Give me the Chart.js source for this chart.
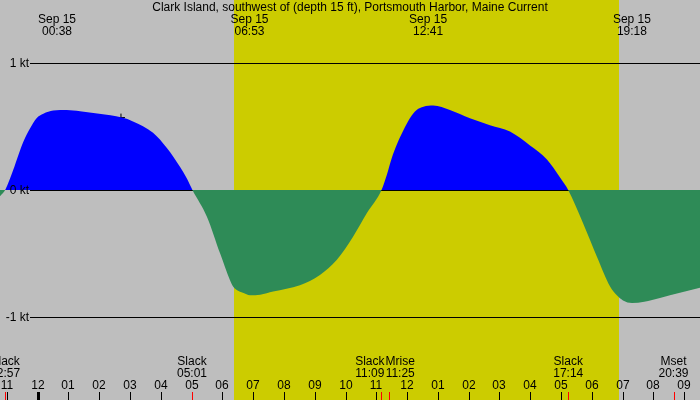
<!DOCTYPE html>
<html>
<head>
<meta charset="utf-8">
<script src="https://cdn.jsdelivr.net/npm/chart.js@4/dist/chart.umd.min.js"></script>
<style>
  body { margin: 0; background: #bebebe; }
  canvas { display: block; }
</style>
</head>
<body>
<canvas id="tideChart" width="700" height="400"></canvas>
<script>
// hours from midnight Sep 15 (negative = Sep 14)
const hours = [-1.22, -1.05, -0.79, -0.62, -0.46, -0.24, -0.03, 0.19, 0.51, 0.95, 1.38, 2.0, 2.74, 3.1, 3.75, 4.2, 4.63, 4.85, 5.03,
    5.5, 5.93, 6.25, 6.35, 6.48, 6.67, 6.9, 7.23, 7.65, 8.52, 9.17, 9.72, 10.24, 10.7, 11.17,
    11.34, 11.5, 11.66, 11.88, 12.09, 12.31, 12.53, 12.85, 13.39, 14.04, 14.69, 15.34, 15.99, 16.54, 16.96, 17.23,
    17.71, 18.17, 18.59, 18.81, 19.01, 19.3, 19.7, 20.21, 20.86, 21.51];
const knots = [-0.05, 0, 0.157, 0.276, 0.38, 0.486, 0.565, 0.6, 0.625, 0.63, 0.62, 0.6, 0.57, 0.54, 0.45, 0.33, 0.18, 0.09, 0,
    -0.21, -0.5, -0.71, -0.76, -0.79, -0.81, -0.83, -0.825, -0.8, -0.75, -0.67, -0.55, -0.37, -0.18, 0,
    0.118, 0.25, 0.354, 0.47, 0.565, 0.63, 0.656, 0.665, 0.63, 0.565, 0.51, 0.46, 0.35, 0.24, 0.1, 0,
    -0.26, -0.53, -0.76, -0.83, -0.87, -0.89, -0.88, -0.85, -0.81, -0.77];

// max flood / max ebb labels on top
const peakHours = [0.633, 6.883, 12.683, 19.3];
const peakTimes = ["00:38", "06:53", "12:41", "19:18"];
const peakDate = "Sep 15";

// slack / moon events at bottom
const eventNames = ["Slack", "Slack", "Slack", "Mrise", "Slack", "Mset"];
const eventTimes = ["22:57", "05:01", "11:09", "11:25", "17:14", "20:39"];
const eventHours = [-1.05, 5.017, 11.15, 11.417, 17.233, 20.65];

const sunrise = 6.38;
const sunset = 18.88;

const nowHour = 2.71;
const nowKt = 0.57;

const kticks = [1, 0, -1];
const ktLabels = ["1 kt", "0 kt", "-1 kt"];

const xMin = -1.218, xMax = 21.51;
const yMin = -1.654, yMax = 1.496;

const FONT = '12px "Liberation Sans", Arial, sans-serif';

function hourLabel(h) {
    let hh = ((h % 12) + 12) % 12;
    if (hh === 0) hh = 12;
    return String(hh).padStart(2, "0");
}

const backdrop = {
    id: "backdrop",
    beforeDraw(chart) {
        const ctx = chart.ctx;
        const x = chart.scales.x;
        ctx.save();
        ctx.fillStyle = "#bebebe";
        ctx.fillRect(0, 0, chart.width, chart.height);
        ctx.fillStyle = "#cccc00";
        const x1 = Math.round(x.getPixelForValue(sunrise));
        const x2 = Math.round(x.getPixelForValue(sunset));
        ctx.fillRect(x1, 0, x2 - x1, chart.height);
        ctx.restore();
    },
    beforeDatasetsDraw(chart) {
        const ctx = chart.ctx;
        const y = chart.scales.y;
        ctx.save();
        ctx.strokeStyle = "#000";
        ctx.lineWidth = 1;
        kticks.forEach(function (k) {
            const py = Math.round(y.getPixelForValue(k)) + 0.5;
            ctx.beginPath();
            ctx.moveTo(30, py);
            ctx.lineTo(chart.width, py);
            ctx.stroke();
        });
        ctx.restore();
    },
    afterDraw(chart) {
        const ctx = chart.ctx;
        const x = chart.scales.x;
        const y = chart.scales.y;
        ctx.save();
        ctx.font = FONT;
        ctx.fillStyle = "#000";
        ctx.textBaseline = "middle";

        // title
        ctx.textAlign = "center";
        ctx.fillText("Clark Island, southwest of (depth 15 ft), Portsmouth Harbor, Maine Current", 350, 8);

        // kt labels
        ctx.textAlign = "right";
        kticks.forEach(function (k, i) {
            ctx.fillText(ktLabels[i], 29, y.getPixelForValue(k) + 1);
        });

        // peak labels
        ctx.textAlign = "center";
        peakHours.forEach(function (h, i) {
            const px = x.getPixelForValue(h);
            ctx.fillText(peakDate, px, 20);
            ctx.fillText(peakTimes[i], px, 32);
        });

        // event labels, pushed apart when they collide
        const pos = eventHours.map(function (h) { return x.getPixelForValue(h); });
        const widths = eventNames.map(function (n, i) {
            return Math.max(ctx.measureText(n).width, ctx.measureText(eventTimes[i]).width);
        });
        const centers = pos.slice();
        for (let i = 1; i < centers.length; i++) {
            const gap = (widths[i - 1] + widths[i]) / 2 + 1;
            if (centers[i] - centers[i - 1] < gap) {
                const mid = (pos[i - 1] + pos[i]) / 2;
                centers[i - 1] = mid - widths[i - 1] / 2 - 0.5;
                centers[i] = mid + widths[i] / 2 + 0.5;
            }
        }
        eventNames.forEach(function (n, i) {
            ctx.fillText(n, centers[i], 362);
            ctx.fillText(eventTimes[i], centers[i], 374);
        });

        // hour labels and ticks
        for (let h = Math.ceil(xMin); h <= Math.floor(xMax); h++) {
            const px = Math.round(x.getPixelForValue(h));
            ctx.fillStyle = "#000";
            ctx.fillText(hourLabel(h), px, 386);
            if (h === 0) {
                ctx.fillRect(px - 1, 392, 3, 8);
            } else {
                ctx.fillRect(px, 392, 1, 8);
            }
        }
        ctx.fillStyle = "#ff0000";
        eventHours.forEach(function (h) {
            const px = Math.round(x.getPixelForValue(h));
            ctx.fillRect(px, 392, 1, 8);
        });
        ctx.restore();
    }
};

const ctx = document.getElementById("tideChart").getContext("2d");

const chart = new Chart(ctx, {
    type: "line",
    data: {
        datasets: [{
            data: hours.map(function (h, i) { return { x: h, y: knots[i] }; }),
            borderWidth: 0,
            borderColor: "rgba(0,0,0,0)",
            pointRadius: 0,
            cubicInterpolationMode: "monotone",
            fill: {
                target: { value: 0 },
                above: "#0000ff",
                below: "#2e8b57"
            }
        }, {
            type: "scatter",
            data: [{ x: nowHour, y: nowKt }],
            pointStyle: "cross",
            pointRadius: 4,
            borderColor: "#000",
            borderWidth: 1
        }]
    },
    plugins: [backdrop],
    options: {
        responsive: false,
        animation: false,
        devicePixelRatio: 1,
        layout: { padding: 0, autoPadding: false },
        plugins: {
            legend: { display: false },
            tooltip: { enabled: false }
        },
        scales: {
            x: { type: "linear", min: xMin, max: xMax, display: false },
            y: { min: yMin, max: yMax, display: false }
        }
    }
});
</script>
</body>
</html>
